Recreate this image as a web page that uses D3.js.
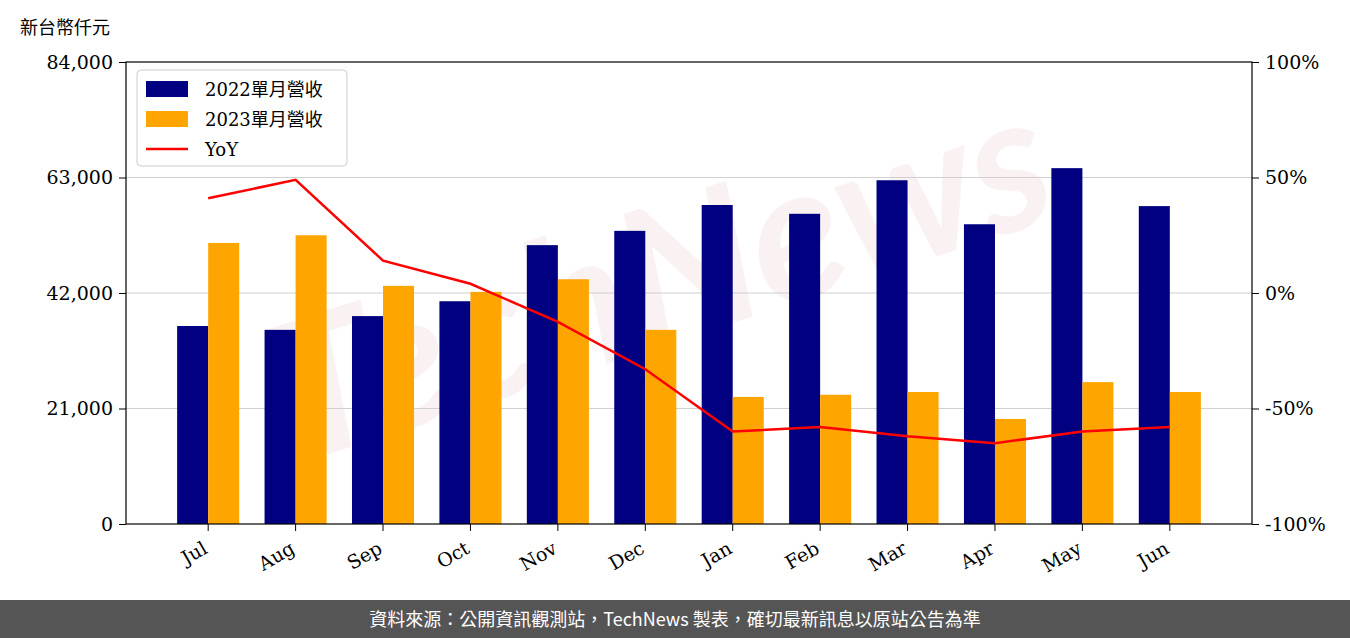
<!DOCTYPE html>
<html><head><meta charset="utf-8">
<script src="https://cdn.jsdelivr.net/npm/d3@7"></script>
<style>body{margin:0;background:#fff}svg{display:block}</style>
</head><body>
<svg id="c" width="1350" height="638"></svg>
<script>
const categories=["Jul","Aug","Sep","Oct","Nov","Dec","Jan","Feb","Mar","Apr","May","Jun"];
const rev2022=[36000,35300,37800,40500,50700,53300,58000,56400,62500,54500,64700,57800];
const rev2023=[51100,52500,43300,42200,44500,35300,23100,23500,24000,19100,25800,24000];
const yoy=[41,49,14,4,-12.5,-33,-60,-58,-62,-65,-60,-58];
const leftTicks=[0,21000,42000,63000,84000];
const rightTicks=[-100,-50,0,50,100];

const svg=d3.select("#c");
const L=126,R=1252,T=62,B=524;
const serif="DejaVu Serif, serif";
const cjk="Noto Sans CJK TC, sans-serif";
const x=d3.scaleBand().domain(categories).range([L,R]).paddingInner(0).paddingOuter(0.44);
const y=d3.scaleLinear().domain([0,84000]).range([B,T]);
const y2=d3.scaleLinear().domain([-100,100]).range([B,T]);
const bw=x.bandwidth()*0.355;

svg.append("text").attr("x",680).attr("y",340).attr("text-anchor","middle")
 .attr("transform","rotate(-18,680,340)").attr("font-family","Lato, sans-serif").attr("font-style","italic")
 .attr("font-weight","bold").attr("font-size",190).attr("fill","rgba(200,120,130,0.1)").text("TechNews");

svg.append("g").selectAll("line").data(leftTicks.slice(1,4)).join("line")
 .attr("x1",L).attr("x2",R).attr("y1",d=>y(d)).attr("y2",d=>y(d)).attr("stroke","#d0d0d0").attr("stroke-width",1.2);

const c=d=>x(d)+x.bandwidth()/2;
svg.append("g").selectAll("rect").data(categories).join("rect")
 .attr("x",(d)=>c(d)-bw).attr("width",bw).attr("y",(d,i)=>y(rev2022[i])).attr("height",(d,i)=>B-y(rev2022[i])).attr("fill","#000080");
svg.append("g").selectAll("rect").data(categories).join("rect")
 .attr("x",(d)=>c(d)).attr("width",bw).attr("y",(d,i)=>y(rev2023[i])).attr("height",(d,i)=>B-y(rev2023[i])).attr("fill","#FFA500");
svg.append("path").datum(yoy).attr("fill","none").attr("stroke","#ff0000").attr("stroke-width",2.5)
 .attr("d",d3.line().x((d,i)=>c(categories[i])).y(d=>y2(d)));

svg.append("rect").attr("x",L).attr("y",T).attr("width",R-L).attr("height",B-T).attr("fill","none").attr("stroke","#000").attr("stroke-width",1.2);

const ax=svg.append("g").attr("transform",`translate(${L},0)`).call(d3.axisLeft(y).tickValues(leftTicks).tickFormat(d3.format(",")).tickSizeOuter(0).tickSize(7).tickPadding(6));
const ax2=svg.append("g").attr("transform",`translate(${R},0)`).call(d3.axisRight(y2).tickValues(rightTicks).tickFormat(d=>d+"%").tickSizeOuter(0).tickSize(7).tickPadding(6));
const axb=svg.append("g").attr("transform",`translate(0,${B})`).call(d3.axisBottom(x).tickSizeOuter(0).tickSize(7));
[ax,ax2,axb].forEach(g=>{g.select(".domain").remove();g.selectAll("text").attr("font-family",serif).attr("font-size",19).attr("fill","#000");g.selectAll("line").attr("stroke","#000")});
axb.selectAll("text").attr("transform","translate(0,12) rotate(-30)").attr("text-anchor","end").attr("dx","-0.4em").attr("dy","0.75em").attr("y",0);

svg.append("text").attr("x",20).attr("y",34).attr("font-family",cjk).attr("font-size",18).text("新台幣仟元");

const lg=svg.append("g");
lg.append("rect").attr("x",137).attr("y",70).attr("width",210).attr("height",96).attr("rx",4).attr("fill","rgba(255,255,255,0.85)").attr("stroke","#ccc");
const items=[["2022單月營收","#000080","bar"],["2023單月營收","#FFA500","bar"],["YoY","#ff0000","line"]];
items.forEach((it,i)=>{const yy=89+i*30;
 if(it[2]=="bar")lg.append("rect").attr("x",146).attr("y",yy-8).attr("width",42).attr("height",16).attr("fill",it[1]);
 else lg.append("line").attr("x1",146).attr("x2",188).attr("y1",yy).attr("y2",yy).attr("stroke",it[1]).attr("stroke-width",2.5);
 lg.append("text").attr("x",205).attr("y",yy+7).attr("font-family",serif+","+cjk).attr("font-size",18).text(it[0]);
});

svg.append("rect").attr("x",0).attr("y",600).attr("width",1350).attr("height",38).attr("fill","#555");
svg.append("text").attr("x",675).attr("y",626).attr("text-anchor","middle").attr("fill","#fff").attr("font-family",cjk).attr("font-size",18)
 .text("資料來源：公開資訊觀測站，TechNews 製表，確切最新訊息以原站公告為準");
</script></body></html>
